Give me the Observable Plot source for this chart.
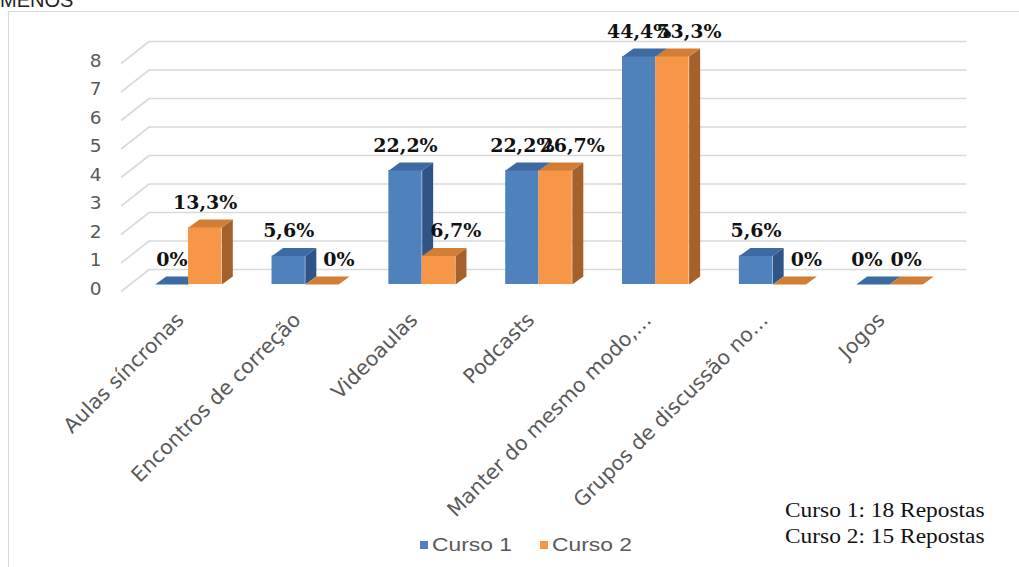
<!DOCTYPE html>
<html>
<head>
<meta charset="utf-8">
<script src="https://cdn.jsdelivr.net/npm/d3@7"></script>
<script src="https://cdn.jsdelivr.net/npm/@observablehq/plot@0.6"></script>
<style>
  body { margin: 0; background: #fff; }
  #page { position: relative; width: 1019px; height: 567px; overflow: hidden; background: #fff; }
  #cut { position: absolute; left: 0; top: -10px; font: 20px/1 "Liberation Sans", Arial, sans-serif; color: #222; }
  #frame { position: absolute; left: 8px; top: 11px; width: 1040px; height: 600px; border: 1px solid #d9d9d9; box-sizing: border-box; }
  #chart { position: absolute; left: 0; top: 0; }
  .leg { position: absolute; top: 533px; height: 24px; display: flex; align-items: center; color: #595959; font: 19px "Liberation Sans", Arial, sans-serif; }
  .leg i { display: inline-block; width: 8px; height: 8px; margin-right: 4px; }
  .leg span { display: inline-block; transform: scaleX(1.2); transform-origin: left center; }
  #note { position: absolute; left: 785px; top: 497px; font: 20px/26px "Liberation Serif", "Times New Roman", serif; color: #111; transform: scaleX(1.17); transform-origin: left top; white-space: nowrap; }
</style>
</head>
<body>
<div id="page">
  <div id="cut">MENOS</div>
  <div id="frame"></div>
  <div id="chart"></div>
  <div id="note"></div>
</div>
<script>
// Categories and counts of answers per course
const categorias = [
  "Aulas síncronas",
  "Encontros de correção",
  "Videoaulas",
  "Podcasts",
  "Manter do mesmo modo,…",
  "Grupos de discussão no…",
  "Jogos"
];
const curso1 = [0, 1, 4, 4, 8, 1, 0];
const curso2 = [2, 0, 1, 4, 8, 0, 0];
const series = ["Curso 1", "Curso 2"];
const respostas = [18, 15];
const yTicks = [0, 1, 2, 3, 4, 5, 6, 7, 8];

// Face colours of the 3-D columns
const cores = {
  "Curso 1": {front: "#4f81bd", top: "#3d6aa3", side: "#2f5486"},
  "Curso 2": {front: "#f79646", top: "#d27e37", side: "#a6602a"}
};

// Layout of the plotting plane
const W = 1019, H = 510;
const mL = 129.6, mR = 71.6, mT = 56, mB = H - 284;
const PX = (W - mL - mR) / categorias.length; // pixels per category
const PY = (H - mT - mB) / 8;                 // pixels per answer
const barW = 33.3 / PX;                       // column width (x units)
const dX = 11 / PX, dY = 8 / PY;              // column depth (data units)
const grid = "#d9d9d9";

const valores = [curso1, curso2];
const bars = [];
series.forEach((s, si) => {
  valores[si].forEach((v, i) => {
    const x1 = si === 0 ? i - barW : i;
    bars.push({serie: s, si, i, v, x1, x2: x1 + barW, n: respostas[si]});
  });
});

const face = (b, pts) => pts.map(([x, y]) => ({id: b.serie + "-" + b.i, x, y}));
const topFace = b => face(b, [[b.x1, b.v], [b.x2, b.v], [b.x2 + dX, b.v + dY], [b.x1 + dX, b.v + dY]]);
const sideFace = b => face(b, [[b.x2, 0], [b.x2, b.v], [b.x2 + dX, b.v + dY], [b.x2 + dX, dY]]);

const pct = b => b.v === 0 ? "0%" : (b.v / b.n * 100).toFixed(1).replace(".", ",") + "%";

// Label shift (pixels) so neighbouring labels do not collide
const shift = b => {
  const other = valores[1 - b.si][b.i];
  if (b.si === 1) return valores[0][b.i] > 0 ? 17 : 0;
  return (b.v === 0 && other === 0) ? -6 : 0;
};

const marks = [
  // back-wall gridlines
  Plot.ruleY(yTicks, {y: d => d, x1: () => -0.5, x2: () => categorias.length - 0.5, dx: 19, dy: -15, stroke: grid, strokeWidth: 1.6}),
  // side-wall gridlines
  Plot.link(yTicks, {x1: () => -0.5, y1: d => d, x2: () => -0.5 + 28 / PX, y2: d => d + 22 / PY, dx: -9, dy: 7, stroke: grid, strokeWidth: 1.6}),
  // y tick labels
  Plot.text(yTicks, {x: () => -0.5, y: d => d, text: d => String(d), textAnchor: "end", dx: -28.6, dy: 4.5,
    fontSize: 18.5, fontFamily: "DejaVu Sans", fill: "#595959"})
];

series.forEach(s => {
  const bs = bars.filter(b => b.serie === s);
  const c = cores[s];
  marks.push(
    Plot.rect(bs, {x1: "x1", x2: "x2", y1: () => 0, y2: "v", fill: c.front}),
    Plot.line(bs.flatMap(sideFace), {x: "x", y: "y", z: "id", fill: c.side, stroke: "none"}),
    Plot.line(bs.flatMap(topFace), {x: "x", y: "y", z: "id", fill: c.top, stroke: "none"})
  );
});

// percentage labels
marks.push(
  Plot.text(bars, {
    x: b => (b.x1 + b.x2) / 2 + shift(b) / PX,
    y: "v",
    text: pct,
    dy: -25,
    fontFamily: "DejaVu Serif",
    fontWeight: "bold",
    fontSize: 19,
    fill: "#111"
  }),
  // category labels
  Plot.text(categorias, {
    x: (d, i) => i,
    y: () => 0,
    text: d => d,
    rotate: -45,
    textAnchor: "end",
    lineAnchor: "middle",
    dx: -8,
    dy: 32,
    fontSize: 20.5,
    fontFamily: "DejaVu Sans",
    fill: "#595959"
  })
);

const chart = Plot.plot({
  width: W,
  height: H,
  marginLeft: mL,
  marginRight: mR,
  marginTop: mT,
  marginBottom: mB,
  x: {domain: [-0.5, categorias.length - 0.5], axis: null},
  y: {domain: [0, 8], axis: null},
  style: {background: "transparent", overflow: "visible"},
  marks
});
document.getElementById("chart").appendChild(chart);

// legend
const page = document.getElementById("page");
const legX = [420, 540];
series.forEach((s, si) => {
  const item = document.createElement("div");
  item.className = "leg";
  item.style.left = legX[si] + "px";
  item.innerHTML = `<i style="background:${cores[s].front}"></i><span>${s}</span>`;
  page.appendChild(item);
});

// respondent counts
document.getElementById("note").innerHTML =
  series.map((s, si) => `${s}: ${respostas[si]} Repostas`).join("<br>");
</script>
</body>
</html>
